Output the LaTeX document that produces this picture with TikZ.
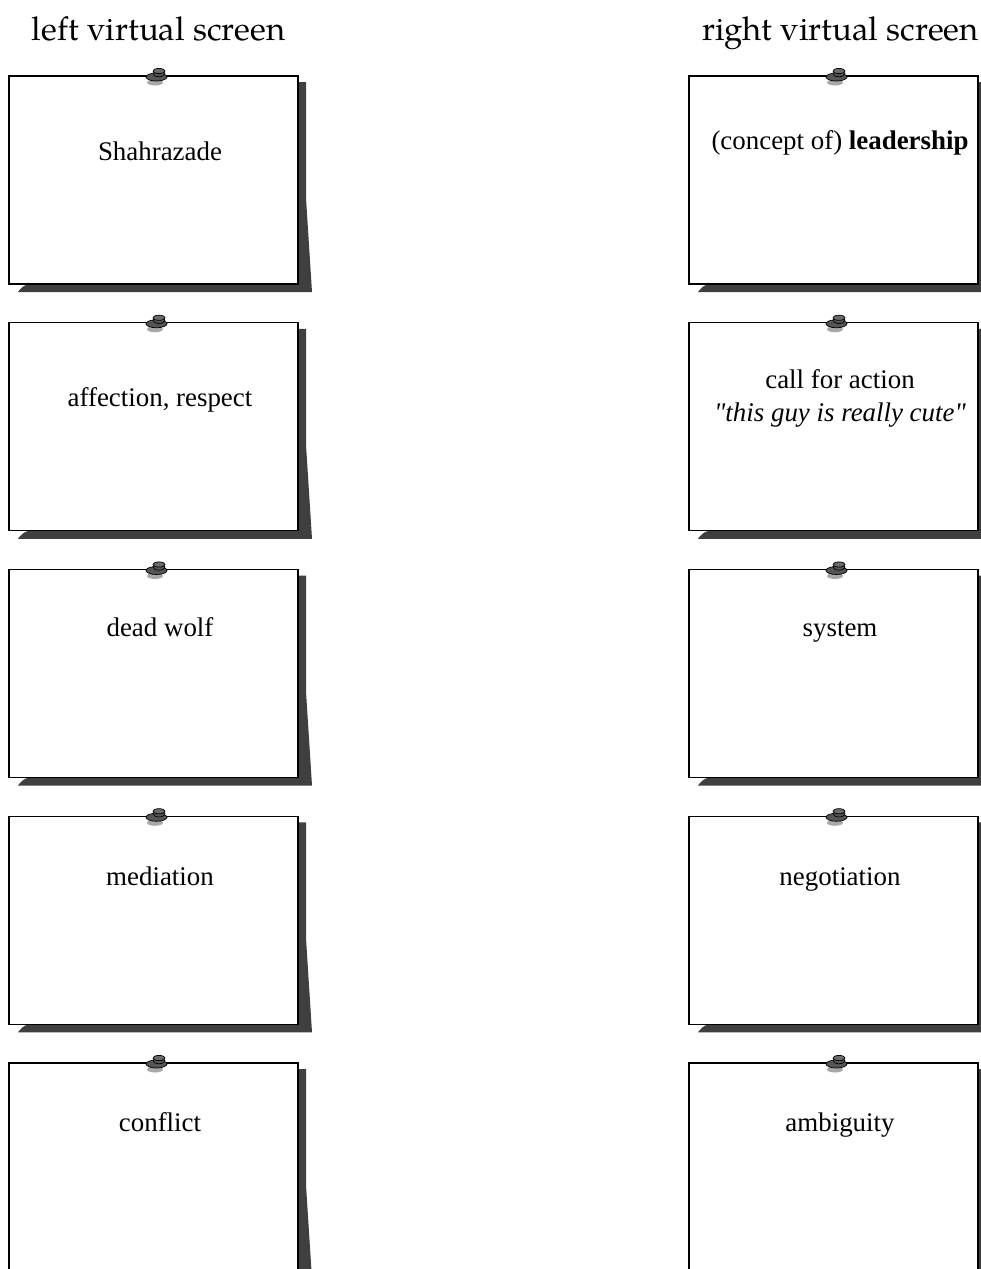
\documentclass[tikz,border=0pt]{standalone}
\usepackage{fontspec}
\setmainfont{Liberation Serif}[Ligatures=TeXOff]
\newfontfamily\palfamily{TeX Gyre Pagella}
\definecolor{shadowc}{HTML}{3F3F3F}
\definecolor{pinbase}{HTML}{555555}
\definecolor{pincap}{HTML}{6A6A6A}
\definecolor{pinshadow}{HTML}{A8A8A8}
\newcommand\palfont{\palfamily\fontsize{33}{38}\selectfont}
\newcommand\cardfont{\fontsize{27}{32}\selectfont}
\tikzset{
  cardbox/.style={draw=black, fill=white, line width=1.1bp, minimum width=289bp, minimum height=208bp, inner sep=0, outer sep=0},
  cardtext/.style={anchor=base, inner sep=0, font=\cardfont},
  header/.style={anchor=base, inner sep=0, font=\palfont},
}
% #1 name, #2 x0, #3 y0
\newcommand\mycard[3]{%
  \begin{scope}[shift={(#2,#3)}]
    \fill[shadowc] (288,6) -- (297,6) -- (297,122) -- (303,216) -- (9,216)
      .. controls (12,212) and (15,209) .. (20,208) -- (288,208) -- cycle;
    \node[cardbox] (#1) at (144.5,104) {};
    \fill[pinshadow] (146,6.5) ellipse (8 and 3);
    \filldraw[fill=pinbase, draw=black, line width=0.7bp] (147.5,1) ellipse (10.5 and 4);
    \filldraw[fill=pinbase, draw=black, line width=0.7bp] (150,-2.5) ellipse (6 and 3.2);
    \filldraw[fill=pincap, draw=black, line width=0.7bp] (150,-5) ellipse (6 and 2.6);
  \end{scope}}
\begin{document}
\begin{tikzpicture}[x=1bp, y=-1bp]
\useasboundingbox (0,0) rectangle (981,1269);
\clip (0,0) rectangle (981,1269);
\node[header] (hl) at (158.5,40) {left virtual screen};
\node[header] (hr) at (840.5,40) {right virtual screen};
% left column
\mycard{l1}{9}{76}
\mycard{l2}{9}{322.75}
\mycard{l3}{9}{569.5}
\mycard{l4}{9}{816.25}
\mycard{l5}{9}{1063}
% right column
\mycard{r1}{689}{76}
\mycard{r2}{689}{322.75}
\mycard{r3}{689}{569.5}
\mycard{r4}{689}{816.25}
\mycard{r5}{689}{1063}
% texts
\node[cardtext] (l1t) at (160,160) {Shahrazade};
\node[cardtext] (l2t) at (160,406.7) {affection, respect};
\node[cardtext] (l3t) at (160,636.7) {dead wolf};
\node[cardtext] (l4t) at (160,885) {mediation};
\node[cardtext] (l5t) at (160,1131.7) {conflict};
\node[cardtext] (r1t) at (840,149) {(concept of) \textbf{leadership}};
\node[cardtext] (r2t) at (840,388) {call for action};
\node[cardtext] (r2q) at (840,421.7) {\itshape "this guy is really cute"};
\node[cardtext] (r3t) at (840,636) {system};
\node[cardtext] (r4t) at (840,885) {negotiation};
\node[cardtext] (r5t) at (840,1131.7) {ambiguity};
\end{tikzpicture}
\end{document}
